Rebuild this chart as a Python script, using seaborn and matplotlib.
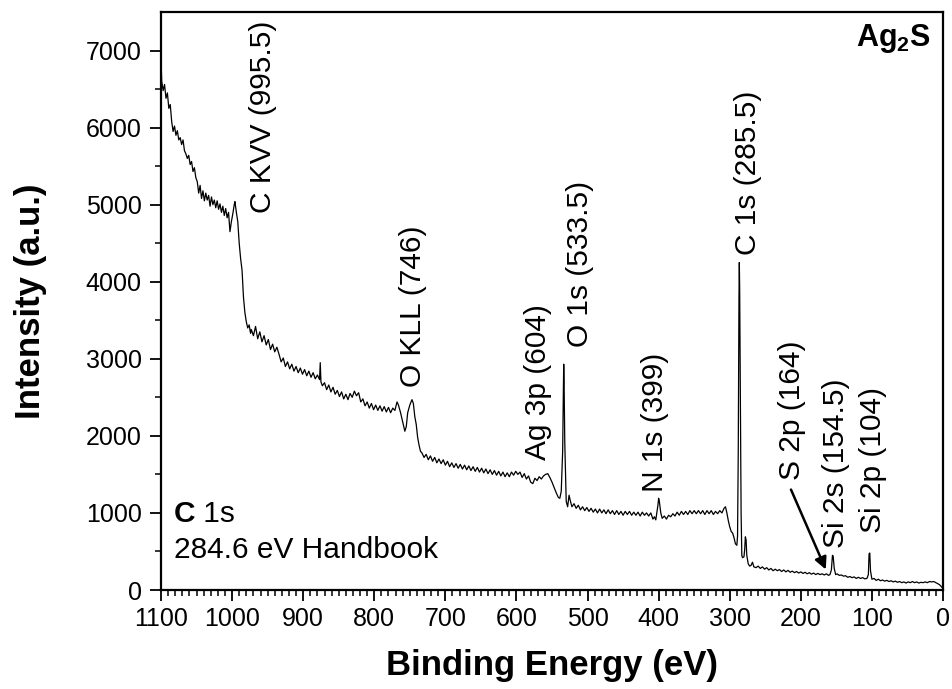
import matplotlib
matplotlib.use("Agg")
import matplotlib.pyplot as plt
import seaborn as sns
import pandas as pd

# ---------------- data ----------------
binding_energy = [
    1100, 1099, 1097, 1095, 1093, 1091, 1089, 1087, 1085, 1083, 1081, 1079, 1077, 1075, 1073, 1071,
    1069, 1067, 1065, 1063, 1061, 1059, 1057, 1055, 1053, 1051, 1049, 1047, 1045, 1043, 1041, 1039,
    1037, 1035, 1033, 1031, 1029, 1027, 1025, 1023, 1021, 1019, 1017, 1015, 1013, 1011, 1009, 1007,
    1005, 1003, 1001, 999, 997, 996, 994, 992, 990, 988, 986, 984, 982, 980, 978, 976, 974,
    973, 970, 967, 964, 961, 958, 955, 952, 949, 946, 943, 940, 937, 934, 931, 928, 925, 922, 919,
    916, 913, 910, 907, 904, 901, 898, 895, 892, 889, 886, 883, 880, 877, 876, 875, 873, 870, 867,
    864, 861, 858, 855, 852, 849, 846, 843, 840, 837, 834, 831, 828, 825, 822, 819, 816, 813, 810,
    807, 804, 801, 798, 795, 792, 789, 786, 783, 780, 777, 774, 771, 768, 766, 763, 760, 757, 755,
    753, 750, 747, 745, 743, 741, 739, 737, 735, 733, 730, 727, 724, 721, 718, 715, 712, 709, 706,
    703, 700, 697, 694, 691, 688, 685, 682, 679, 676, 673, 670, 667, 664, 661, 658, 655, 652, 649,
    646, 643, 640, 637, 634, 631, 628, 625, 622, 619, 616, 613, 610, 607, 604, 601, 598, 595, 592,
    589, 586, 583, 580, 577, 574, 571, 568, 565, 562, 559, 556, 553, 550, 547, 544, 541, 539, 537,
    535, 534, 533.5, 533, 532, 530, 528, 526, 524, 522, 519, 516, 513, 510, 507, 504, 501, 498, 495,
    492, 489, 486, 483, 480, 477, 474, 471, 468, 465, 462, 459, 456, 453, 450, 447, 444, 441, 438,
    435, 432, 429, 426, 423, 420, 417, 414, 411, 408, 406, 404, 401, 400, 399, 397, 395, 392, 389,
    386, 383, 380, 377, 374, 371, 368, 365, 362, 359, 356, 353, 350, 347, 344, 341, 338, 335, 332,
    329, 326, 323, 320, 317, 314, 311, 308, 306, 304, 302, 300, 298, 296, 294, 292, 290, 289, 288,
    287, 286.5, 286, 285, 284, 283, 282, 280, 279, 278, 277, 276, 274, 272, 270, 268, 266, 263, 260,
    257, 254, 251, 248, 245, 242, 239, 236, 233, 230, 227, 224, 221, 218, 215, 212, 209, 206, 203,
    200, 197, 194, 191, 188, 185, 182, 179, 176, 173, 170, 167, 164, 161, 159, 157, 155.5, 154.5,
    153, 151, 149, 146, 143, 140, 137, 134, 131, 128, 125, 122, 119, 116, 113, 110, 107, 105, 104,
    103, 102, 100, 97, 94, 91, 88, 85, 82, 79, 76, 73, 70, 67, 64, 61, 58, 55, 52, 49, 46, 43, 40,
    37, 34, 31, 28, 25, 22, 19, 16, 13, 10, 7, 5, 3, 1, 0,
]
intensity = [
    6870, 6600, 6480, 6560, 6380, 6450, 6250, 6300, 6080, 5950, 6020, 5900, 5960, 5840, 5870, 5780,
    5840, 5700, 5660, 5600, 5640, 5520, 5560, 5430, 5480, 5350, 5300, 5150, 5250, 5080, 5180, 5050,
    5150, 5060, 5120, 4980, 5100, 5000, 5060, 4960, 5050, 4940, 5010, 4900, 4980, 4860, 4950, 4830,
    4900, 4650, 4780, 4880, 5000, 5040, 4900, 4780, 4500, 4300, 4150, 3800, 3600, 3480, 3400, 3440, 3330,
    3380, 3300, 3420, 3260, 3350, 3220, 3300, 3180, 3250, 3120, 3190, 3090, 3150, 3060, 2960, 3010, 2900, 2960, 2870,
    2930, 2840, 2900, 2820, 2880, 2800, 2860, 2780, 2840, 2760, 2820, 2740, 2790, 2730, 2950, 2700, 2650, 2690, 2600,
    2660, 2570, 2630, 2540, 2590, 2510, 2570, 2480, 2540, 2470, 2550, 2500, 2580, 2520, 2560, 2440, 2480, 2390, 2440,
    2360, 2420, 2340, 2400, 2330, 2390, 2320, 2380, 2310, 2370, 2300, 2360, 2330, 2440, 2400, 2300, 2180, 2060, 2120,
    2300, 2400, 2470, 2420, 2250, 2150, 1980, 1880, 1800, 1780, 1720, 1760, 1690, 1740, 1670, 1720, 1650, 1700, 1640,
    1690, 1620, 1670, 1600, 1650, 1590, 1640, 1580, 1630, 1570, 1620, 1560, 1610, 1550, 1600, 1540, 1590, 1530, 1580,
    1520, 1570, 1510, 1560, 1500, 1550, 1490, 1540, 1480, 1530, 1470, 1520, 1470, 1530, 1490, 1540, 1500, 1530, 1460,
    1510, 1440, 1480, 1400, 1380, 1450, 1420, 1470, 1440, 1480, 1500, 1510, 1460, 1400, 1330, 1260, 1200, 1190, 1280,
    1800, 2600, 2930, 2700, 1900, 1150, 1080, 1230, 1150, 1080, 1120, 1060, 1100, 1040, 1080, 1030, 1070, 1020, 1060,
    1010, 1050, 1000, 1050, 1000, 1040, 990, 1040, 990, 1030, 980, 1030, 980, 1020, 970, 1020, 980, 1020, 970,
    1010, 970, 1010, 960, 1010, 970, 1000, 960, 1000, 920, 950, 910, 1100, 1190, 1150, 1000, 930, 960, 920,
    970, 950, 990, 960, 1010, 970, 1020, 980, 1020, 980, 1030, 990, 1030, 990, 1030, 990, 1030, 980, 1030,
    990, 1030, 980, 1020, 990, 1030, 1000, 1060, 1080, 1000, 900, 820, 760, 740, 680, 600, 580, 700, 1800,
    3800, 4250, 3900, 2400, 1000, 450, 420, 430, 520, 690, 650, 450, 340, 310, 320, 360, 300, 290, 310,
    280, 300, 270, 290, 260, 280, 250, 270, 250, 265, 240, 260, 235, 255, 230, 245, 225, 240, 220,
    235, 215, 230, 210, 225, 205, 220, 200, 215, 200, 210, 195, 210, 190, 200, 260, 450, 440,
    280, 200, 210, 190, 195, 180, 185, 165, 175, 160, 170, 150, 165, 150, 160, 145, 150, 200, 470,
    480, 250, 140, 150, 125, 140, 120, 130, 115, 125, 110, 120, 105, 115, 100, 110, 95, 105, 90, 105, 95, 110, 95,
    105, 90, 100, 95, 105, 95, 110, 105, 110, 95, 80, 70, 50, 30, 25,
]

peak_labels = ["C KVV (995.5)", "O KLL (746)", "Ag 3p (604)", "O 1s (533.5)", "N 1s (399)",
               "C 1s (285.5)", "S 2p (164)", "Si 2s (154.5)", "Si 2p (104)"]
x_ticks = [1100, 1000, 900, 800, 700, 600, 500, 400, 300, 200, 100, 0]
y_ticks = [0, 1000, 2000, 3000, 4000, 5000, 6000, 7000]

# ---------------- positions / style ----------------
label_x = [956, 746, 570, 511, 405, 274, 212.5, 151, 98.5]
label_y = [4890, 2630, 1685, 3150, 1270, 4345, 1430, 545, 740]

sns.set_theme(style="ticks")
plt.rcParams["font.family"] = ["Liberation Sans", "DejaVu Sans"]
plt.rcParams["mathtext.fontset"] = "custom"
plt.rcParams["mathtext.rm"] = "Liberation Sans"
plt.rcParams["mathtext.bf"] = "Liberation Sans:bold"
for key in ["text.color", "axes.labelcolor", "xtick.color", "ytick.color", "axes.edgecolor"]:
    plt.rcParams[key] = "black"

fig = plt.figure(figsize=(9.52, 6.89), dpi=100)
ax = fig.add_axes([161 / 952, 1 - 590 / 689, (943 - 161) / 952, (590 - 12) / 689])

df = pd.DataFrame({"Binding Energy (eV)": binding_energy, "Intensity (a.u.)": intensity})
sns.lineplot(data=df, x="Binding Energy (eV)", y="Intensity (a.u.)", ax=ax,
             color="black", linewidth=0.9, estimator=None, sort=True)

ax.set_xlim(1100, 0)
ax.set_ylim(0, 7500)
ax.set_xticks(x_ticks)
ax.set_xticks(list(range(0, 1101, 10)), minor=True)
ax.set_yticks(y_ticks)
ax.set_yticks(list(range(500, 7500, 1000)), minor=True)
ax.tick_params(axis="both", which="major", direction="out", length=8, width=1.3,
               labelsize=18, colors="black")
ax.tick_params(axis="both", which="minor", direction="out", length=4, width=1.1)
ax.tick_params(axis="x", which="major", pad=4)
ax.tick_params(axis="y", which="major", pad=6)
for s in ax.spines.values():
    s.set_linewidth(1.6)
    s.set_color("black")
    s.set_visible(True)

ax.set_xlabel("Binding Energy (eV)", fontsize=25, fontweight="bold")
ax.set_ylabel("Intensity (a.u.)", fontsize=25, fontweight="bold")
ax.xaxis.set_label_coords(0.5, -0.102)
ax.yaxis.set_label_coords(-0.146, 0.5)

for txt, lx, ly in zip(peak_labels, label_x, label_y):
    ax.text(lx, ly, txt, rotation=90, ha="center", va="bottom", fontsize=21.5, color="black")

# S 2p arrow
ax.annotate("", xy=(163.3, 233), xytext=(215.4, 1336),
            arrowprops=dict(arrowstyle="-|>", color="black", lw=1.8, mutation_scale=18))

# calibration note
t1 = ax.text(0.016, 0.118, "C", transform=ax.transAxes, fontsize=21.5, fontweight="bold",
             ha="left", va="baseline")
ax.annotate(" 1s", xy=(1, 0), xycoords=t1, fontsize=21.5, ha="left", va="bottom")
ax.text(0.016, 0.055, "284.6 eV Handbook", transform=ax.transAxes, fontsize=21.5,
        ha="left", va="baseline")

ax.text(0.985, 0.955, r"$\mathbf{Ag_2S}$", transform=ax.transAxes, fontsize=22,
        ha="right", va="center")

fig.savefig("out.png", dpi=100)
